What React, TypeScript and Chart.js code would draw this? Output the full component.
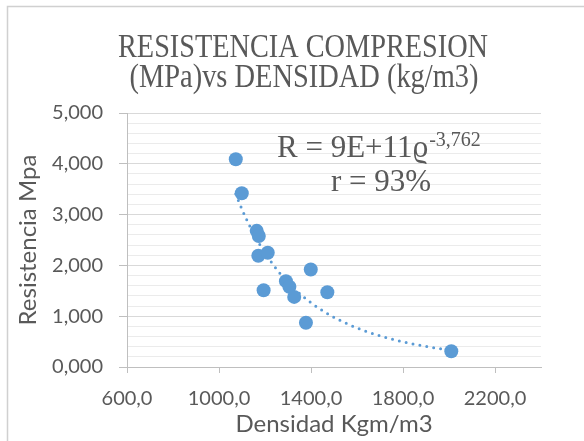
import React, { useEffect, useRef } from 'react';
import { Chart, registerables } from 'chart.js';

Chart.register(...registerables);

// ---- data ----
const densidad = [1073, 1099, 1164, 1173, 1171, 1212, 1399, 1194, 1291, 1306, 1327, 1471, 1378, 2010];
const resistencia = [4.09, 3.42, 2.68, 2.58, 2.19, 2.25, 1.92, 1.51, 1.69, 1.58, 1.38, 1.47, 0.87, 0.31];
const xTickValues = [600, 1000, 1400, 1800, 2200];
const titleLines = ['RESISTENCIA COMPRESION', '(MPa)vs DENSIDAD (kg/m3)'];
const xAxisTitle = 'Densidad Kgm/m3';
const yAxisTitle = 'Resistencia Mpa';
const eqMain = 'R = 9E+11\u03F1';
const eqExp = '-3,762';
const eqR = 'r = 93%';

const BLUE = '#5B9BD5';
const TEXT = '#595959';

// power-law least-squares fit (like Excel's power trendline)
function powerFit(xs: number[], ys: number[]) {
  const n = xs.length;
  let sx = 0, sy = 0, sxx = 0, sxy = 0;
  for (let i = 0; i < n; i++) {
    const lx = Math.log(xs[i]);
    const ly = Math.log(ys[i]);
    sx += lx; sy += ly; sxx += lx * lx; sxy += lx * ly;
  }
  const b = (n * sxy - sx * sy) / (n * sxx - sx * sx);
  const lnA = (sy - b * sx) / n;
  return { a: Math.exp(lnA), b };
}

const isMajor = (v: number) => Math.abs(v - Math.round(v)) < 1e-6;

const decorPlugin = {
  id: 'decor',
  beforeDraw(chart: any) {
    const ctx = chart.ctx;
    ctx.save();
    ctx.strokeStyle = '#d0d0d0';
    ctx.lineWidth = 1.5;
    ctx.beginPath();
    ctx.moveTo(7.5, 441);
    ctx.lineTo(7.5, 6.5);
    ctx.lineTo(584, 6.5);
    ctx.stroke();
    ctx.restore();
  },
  afterDraw(chart: any) {
    const ctx = chart.ctx;
    ctx.save();
    ctx.fillStyle = TEXT;
    ctx.textAlign = 'center';
    ctx.textBaseline = 'alphabetic';
    ctx.font = '34px "Liberation Serif", "DejaVu Serif", serif';
    ctx.fillText(titleLines[0], 303, 57, 370);
    ctx.fillText(titleLines[1], 304, 87, 349);

    // trendline equation
    ctx.textAlign = 'left';
    ctx.font = '31px "Liberation Serif", "DejaVu Serif", serif';
    const wMain = ctx.measureText(eqMain).width;
    ctx.fillText(eqMain, 277, 157);
    ctx.font = '20px "Liberation Serif", "DejaVu Serif", serif';
    ctx.fillText(eqExp, 277 + wMain + 1, 146);
    ctx.textAlign = 'center';
    ctx.font = '31px "Liberation Serif", "DejaVu Serif", serif';
    ctx.fillText(eqR, 381, 191);
    ctx.restore();
  },
};

export default function App() {
  const ref = useRef<HTMLCanvasElement | null>(null);

  useEffect(() => {
    if (!ref.current) return;
    const points = densidad.map((x, i) => ({ x, y: resistencia[i] }));
    const fit = powerFit(densidad, resistencia);
    const xMin = Math.min(...densidad);
    const xMax = Math.max(...densidad);
    const steps = 80;
    const trend = [] as { x: number; y: number }[];
    for (let i = 0; i <= steps; i++) {
      const x = xMin + ((xMax - xMin) * i) / steps;
      trend.push({ x, y: fit.a * Math.pow(x, fit.b) });
    }

    const chart = new Chart(ref.current, {
      type: 'scatter',
      data: {
        datasets: [
          {
            label: 'Resistencia',
            data: points,
            backgroundColor: BLUE,
            borderColor: BLUE,
            borderWidth: 0,
            pointRadius: 7,
            pointHoverRadius: 7,
          },
          {
            label: 'Tendencia',
            type: 'line',
            data: trend,
            borderColor: BLUE,
            borderWidth: 3,
            borderDash: [0, 7],
            borderCapStyle: 'round',
            pointRadius: 0,
            fill: false,
            tension: 0,
          } as any,
        ],
      },
      options: {
        responsive: false,
        animation: false,
        devicePixelRatio: 1,
        layout: { padding: { left: 8, right: 43, top: 113, bottom: 0 } },
        plugins: {
          legend: { display: false },
          title: { display: false },
          tooltip: { enabled: false },
        },
        scales: {
          x: {
            type: 'linear',
            min: 600,
            max: 2400,
            afterBuildTicks: (s: any) => {
              s.ticks = xTickValues.map((v) => ({ value: v }));
            },
            afterFit: (s: any) => {
              s.height = 74;
            },
            grid: {
              drawOnChartArea: false,
              drawTicks: true,
              tickLength: 6,
              color: '#bfbfbf',
              tickColor: '#bfbfbf',
            },
            border: { display: true, color: '#bfbfbf', width: 1 },
            ticks: {
              color: TEXT,
              font: { family: 'Lato', size: 20 },
              padding: 14,
              maxRotation: 0,
              autoSkip: false,
              callback: (v: any) => Number(v).toFixed(1).replace('.', ','),
            },
            title: {
              display: true,
              text: xAxisTitle,
              color: TEXT,
              font: { family: 'Lato', size: 24 },
              padding: { top: 0, bottom: 2 },
            },
          },
          y: {
            type: 'linear',
            min: 0,
            max: 5,
            afterFit: (s: any) => {
              s.width = 119;
            },
            grid: {
              drawOnChartArea: true,
              drawTicks: true,
              tickLength: 8,
              color: (c: any) => (isMajor(c.tick.value) ? '#d9d9d9' : '#ebebeb'),
              tickColor: (c: any) => (isMajor(c.tick.value) ? '#bfbfbf' : 'rgba(0,0,0,0)'),
            },
            border: { display: true, color: '#bfbfbf', width: 1 },
            ticks: {
              stepSize: 0.2,
              autoSkip: false,
              color: TEXT,
              font: { family: 'Lato', size: 20 },
              padding: 16,
              callback: (v: any) => (isMajor(Number(v)) ? Number(v).toFixed(3).replace('.', ',') : ''),
            },
            title: {
              display: true,
              text: yAxisTitle,
              color: TEXT,
              font: { family: 'Lato', size: 24 },
              padding: { top: 6, bottom: 0 },
            },
          },
        },
      },
      plugins: [decorPlugin],
    } as any);
    return () => chart.destroy();
  }, []);

  return (
    <div style={{ position: 'absolute', left: 0, top: 0, width: 584, height: 441, background: '#ffffff' }}>
      <canvas ref={ref} width={584} height={441} style={{ display: 'block' }} />
    </div>
  );
}
